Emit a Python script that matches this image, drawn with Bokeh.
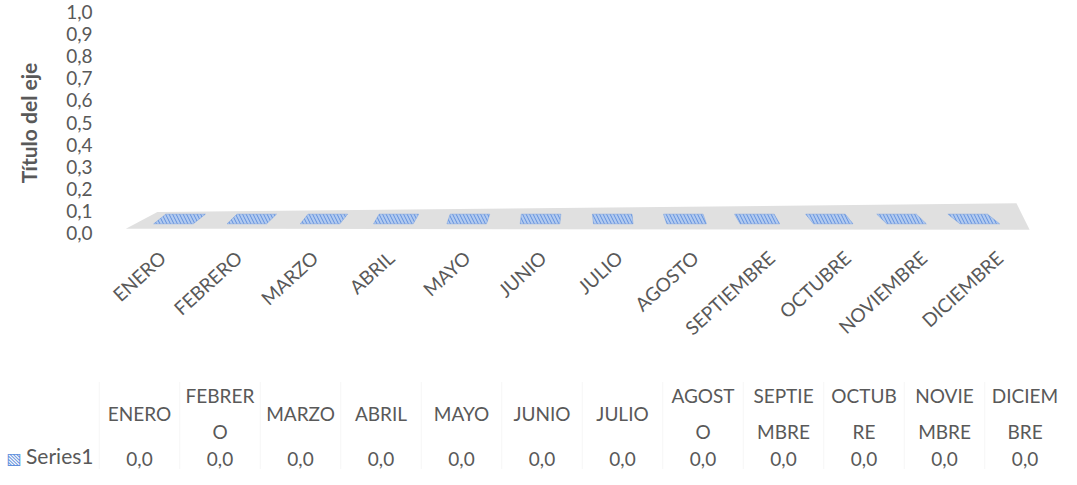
from bokeh.plotting import figure
from bokeh.models import Range1d, FixedTicker, CustomJSTickFormatter, LinearAxis
from bokeh.layouts import column
from bokeh.embed import file_html
from bokeh.resources import INLINE
from bokeh.core.properties import value

# ---------------- data ----------------
months = ["ENERO", "FEBRERO", "MARZO", "ABRIL", "MAYO", "JUNIO", "JULIO",
          "AGOSTO", "SEPTIEMBRE", "OCTUBRE", "NOVIEMBRE", "DICIEMBRE"]
table_headers = ["ENERO", "FEBRER\nO", "MARZO", "ABRIL", "MAYO", "JUNIO", "JULIO",
                 "AGOST\nO", "SEPTIE\nMBRE", "OCTUB\nRE", "NOVIE\nMBRE", "DICIEM\nBRE"]
series_name = "Series1"
series1 = [0.0, 0.0, 0.0, 0.0, 0.0, 0.0, 0.0, 0.0, 0.0, 0.0, 0.0, 0.0]
y_ticks = [0.0, 0.1, 0.2, 0.3, 0.4, 0.5, 0.6, 0.7, 0.8, 0.9, 1.0]
axis_title = "Título del eje"

# ---------------- style ----------------
FONT = "Lato"
GRAY = "#595959"
BAR_FILL = "#b3cbf0"
BAR_HATCH = "#6190dc"
FLOOR = "#e0e0e0"
W = 1061
LEFT = 96

idx = list(range(len(months)))
n = len(months)

# ---------------- chart ----------------
p = figure(width=W, height=350, x_range=Range1d(-1.0505, 12.115), y_range=Range1d(-0.0311, 1.0267),
           output_backend="svg", toolbar_location=None, x_axis_location=None,
           min_border_left=LEFT, min_border_right=0, min_border_top=6, min_border_bottom=106)
p.outline_line_color = None
p.xgrid.grid_line_color = None
p.ygrid.grid_line_color = None

# floor of the 3D chart (perspective trapezoid)
p.patch(x=[-0.65, -0.22, n - 0.5, n - 0.32], y=[0.0178, 0.0933, 0.1333, 0.0133],
        fill_color=FLOOR, line_color=None)

# flat (zero-height) bars drawn as perspective plates on the floor
hw = 0.27
xs, ys = [], []
for i, v in zip(idx, series1):
    s = -0.03 * (i - 5.5)
    xs.append([i - hw, i + hw, i + hw + s, i - hw + s])
    ys.append([v + 0.040, v + 0.040, v + 0.084, v + 0.084])
p.patches(xs=xs, ys=ys, fill_color=BAR_FILL, line_color=BAR_HATCH, line_alpha=0.4,
          hatch_pattern="left_diagonal_line", hatch_color=BAR_HATCH, hatch_scale=7,
          hatch_weight=1.0)

# y axis
yax = p.yaxis[0]
yax.ticker = FixedTicker(ticks=y_ticks)
yax.formatter = CustomJSTickFormatter(code="return tick.toFixed(1).replace('.', ',');")
yax.axis_line_color = None
yax.major_tick_line_color = None
yax.minor_tick_line_color = None
yax.major_tick_out = 0
yax.major_label_text_color = GRAY
yax.major_label_text_font = FONT
yax.major_label_text_font_size = "19px"
yax.major_label_standoff = 4
yax.axis_label = axis_title
yax.axis_label_text_font = FONT
yax.axis_label_text_font_style = "bold"
yax.axis_label_text_font_size = "21px"
yax.axis_label_text_color = GRAY
yax.axis_label_standoff = 22

# category labels (perspective-spaced axis)
p.extra_x_ranges = {"lab": Range1d(-0.867, 11.813)}
xax = LinearAxis(x_range_name="lab", ticker=FixedTicker(ticks=idx),
                 formatter=CustomJSTickFormatter(args=dict(names=months),
                                                 code="return names[Math.round(tick)] || '';"))
xax.axis_line_color = None
xax.major_tick_line_color = None
xax.minor_tick_line_color = None
xax.major_tick_out = 0
xax.major_label_orientation = 0.74
xax.major_label_text_color = GRAY
xax.major_label_text_font = FONT
xax.major_label_text_font_size = "19px"
xax.major_label_standoff = 15
p.add_layout(xax, "below")

# ---------------- data table ----------------
t = figure(width=W, height=119, x_range=Range1d(-0.534, 11.453), y_range=Range1d(-0.244, 2.4),
           output_backend="svg", toolbar_location=None, x_axis_location=None,
           y_axis_location=None, min_border_left=LEFT, min_border_right=0,
           min_border_top=0, min_border_bottom=0)
t.outline_line_color = None
t.xgrid.grid_line_color = None
t.ygrid.grid_line_color = None

# faint cell separators
sep = [i - 0.5 for i in idx] + [n - 0.5]
t.segment(x0=sep, y0=[-0.35] * len(sep), x1=sep, y1=[1.7] * len(sep),
          line_color="#f6f6f6", line_width=1)

t.text(x=idx, y=[1] * n, text=table_headers, text_align="center", text_baseline="middle",
       text_font=value(FONT), text_font_size="19px", text_color=GRAY, text_line_height=1.55)
t.text(x=idx, y=[0] * n, text=[f"{v:.1f}".replace(".", ",") for v in series1],
       text_align="center", text_baseline="middle",
       text_font=value(FONT), text_font_size="19px", text_color=GRAY)

# row header of the data table: series name, then its key
row_axis = LinearAxis(ticker=FixedTicker(ticks=[0]),
                      formatter=CustomJSTickFormatter(args=dict(name=series_name),
                                                      code="return name;"))
key_axis = LinearAxis(ticker=FixedTicker(ticks=[0]),
                      formatter=CustomJSTickFormatter(code="return '\u25a7';"))
for ax, size, font, color, stand in [(row_axis, "21px", FONT, GRAY, 3),
                                     (key_axis, "16px", "DejaVu Sans", BAR_HATCH, 2)]:
    ax.axis_line_color = None
    ax.major_tick_line_color = None
    ax.minor_tick_line_color = None
    ax.major_tick_out = 0
    ax.major_tick_in = 0
    ax.major_label_text_font = font
    ax.major_label_text_font_size = size
    ax.major_label_text_color = color
    ax.major_label_standoff = stand
    t.add_layout(ax, "left")

layout = column(p, t, spacing=0)
open("out.html", "w").write(file_html(layout, INLINE))
